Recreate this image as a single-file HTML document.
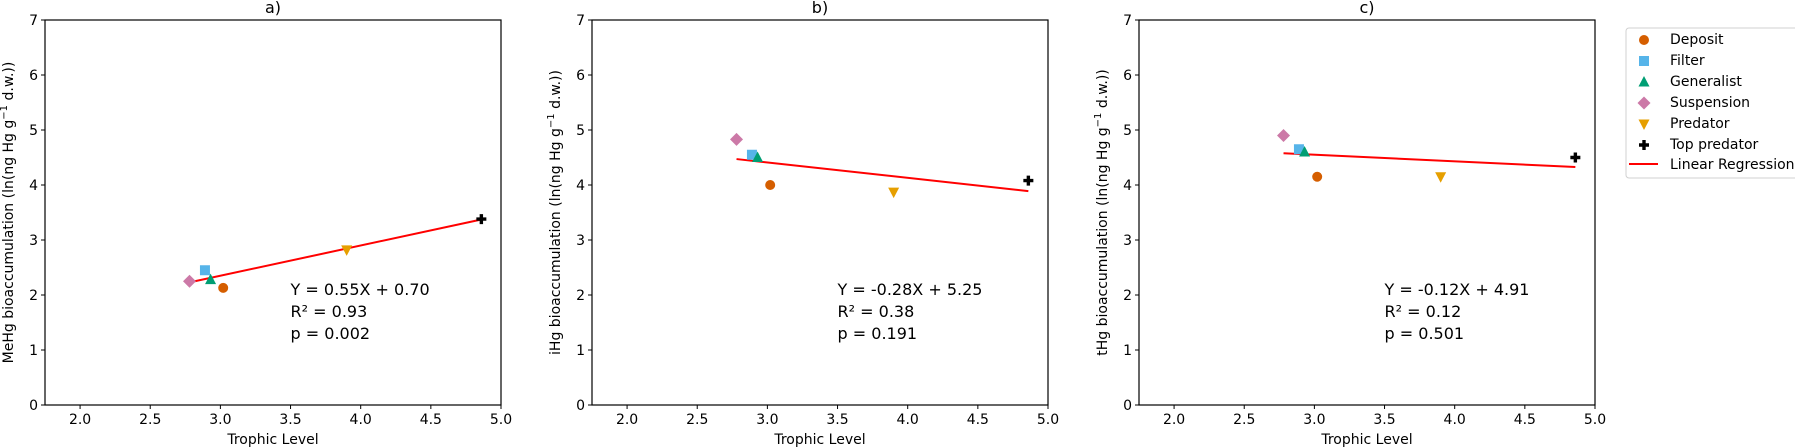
<!DOCTYPE html>
<html><head><meta charset="utf-8"><style>
html,body{margin:0;padding:0;background:#fff;}
svg{display:block;font-family:"DejaVu Sans","Liberation Sans",sans-serif;}
</style></head><body>
<svg id="fig" width="1795" height="448" viewBox="0 0 1795 448"></svg>
<script>
const xTicks = [2.0, 2.5, 3.0, 3.5, 4.0, 4.5, 5.0];
const yTicks = [0, 1, 2, 3, 4, 5, 6, 7];
const groups = ["Deposit", "Filter", "Generalist", "Suspension", "Predator", "Top predator"];
const trophic = [3.02, 2.89, 2.93, 2.78, 3.90, 4.86];
const meHg = [2.13, 2.45, 2.28, 2.25, 2.82, 3.38];
const iHg = [4.00, 4.55, 4.50, 4.83, 3.87, 4.08];
const tHg = [4.15, 4.65, 4.60, 4.90, 4.15, 4.50];
const slopes = [0.55, -0.28, -0.12];
const intercepts = [0.70, 5.25, 4.91];
const r2 = ["0.93", "0.38", "0.12"];
const pvals = ["0.002", "0.191", "0.501"];
const titles = ["a)", "b)", "c)"];
const ylabels = ["MeHg", "iHg", "tHg"];
const colors = ["#d55e00", "#56b4e9", "#009e73", "#cc79a7", "#e69f00", "#000000"];
const series = [meHg, iHg, tHg];

const NS = "http://www.w3.org/2000/svg";
const svg = document.getElementById('fig');
function mk(tag, attrs, parent) {
  const e = document.createElementNS(NS, tag);
  for (const k in attrs) e.setAttribute(k, attrs[k]);
  (parent || svg).appendChild(e);
  return e;
}
function marker(g, i, cx, cy, parent) {
  const c = colors[i]; let e;
  if (g === 0) e = mk('circle', {cx, cy, r: 5, fill: c}, parent);
  else if (g === 1) e = mk('rect', {x: cx-5, y: cy-5, width: 10, height: 10, fill: c}, parent);
  else if (g === 2) e = mk('polygon', {points: `${cx},${cy-6} ${cx+5.5},${cy+4.5} ${cx-5.5},${cy+4.5}`, fill: c}, parent);
  else if (g === 3) e = mk('polygon', {points: `${cx},${cy-6.5} ${cx+6.5},${cy} ${cx},${cy+6.5} ${cx-6.5},${cy}`, fill: c}, parent);
  else if (g === 4) e = mk('polygon', {points: `${cx-5.5},${cy-4.5} ${cx+5.5},${cy-4.5} ${cx},${cy+6}`, fill: c}, parent);
  else e = mk('path', {d: `M${cx-1.7},${cy-5}h3.4v3.3h3.3v3.4h-3.3v3.3h-3.4v-3.3h-3.3v-3.4h3.3z`, fill: c}, parent);
  return e;
}
const lefts = [45, 592, 1139];
const W = 456, topY = 20, botY = 405;
const xmin = 1.75, xmax = 5.0, ymin = 0, ymax = 7;
lefts.forEach((L, p) => {
  const sx = v => L + (v - xmin) / (xmax - xmin) * W;
  const sy = v => botY - (v - ymin) / (ymax - ymin) * (botY - topY);
  const g = mk('g', {});
  
  
  const t = mk('text', {x: L + W/2, y: 13, 'text-anchor': 'middle', 'font-size': 16}, g);
  t.textContent = titles[p];
  
  
  xTicks.forEach(v => {
    const x = sx(v);
    mk('line', {x1: x, x2: x, y1: botY, y2: botY + 4, stroke: '#000', 'stroke-width': 1}, g);
    const tl = mk('text', {x, y: botY + 19, 'text-anchor': 'middle', 'font-size': 14}, g);
    tl.textContent = v.toFixed(1);
    
    
  });
  yTicks.forEach(v => {
    const y = sy(v);
    mk('line', {x1: L - 4, x2: L, y1: y, y2: y, stroke: '#000', 'stroke-width': 1}, g);
    const tl = mk('text', {x: L - 7, y: y + 5, 'text-anchor': 'end', 'font-size': 14}, g);
    tl.textContent = v;
    
    
  });
  const xt = mk('text', {x: L + W/2, y: 444, 'text-anchor': 'middle', 'font-size': 14}, g);
  xt.textContent = 'Trophic Level';
  
  
  const yt = mk('text', {x: 0, y: 0, 'text-anchor': 'middle', 'font-size': 14, transform: `translate(${L - 32},${(topY+botY)/2}) rotate(-90)`}, g);
  yt.innerHTML = ylabels[p] + ' bioaccumulation (ln(ng Hg g<tspan dy="-6" font-size="10">−1</tspan><tspan dy="6"> d.w.))</tspan>';
  
  
  const x0 = Math.min(...trophic), x1 = Math.max(...trophic);
  const rl = mk('line', {x1: sx(x0), y1: sy(slopes[p]*x0 + intercepts[p]), x2: sx(x1), y2: sy(slopes[p]*x1 + intercepts[p]), stroke: '#ff0000', 'stroke-width': 2}, g);
  
  
  groups.forEach((name, i) => {
    const m = marker(i, i, sx(trophic[i]), sy(series[p][i]), g);
    
    
  });
  const fmt = (v) => v.toFixed(2);
  const lines = [`Y = ${fmt(slopes[p])}X + ${fmt(intercepts[p])}`, `R² = ${r2[p]}`, `p = ${pvals[p]}`];
  lines.forEach((s, k) => {
    const a = mk('text', {x: sx(3.5), y: 295 + k*22, 'font-size': 16}, g);
    a.textContent = s;
    
    
  });
  mk('rect', {x: L, y: topY, width: W, height: botY - topY, fill: 'none', stroke: '#000', 'stroke-width': 1.2}, g);
});
const lg = mk('g', {});


mk('rect', {x: 1626, y: 28, width: 175, height: 150, rx: 3, fill: '#fff', stroke: '#d0d0d0', 'stroke-width': 1}, lg);
groups.forEach((name, i) => {
  const y = 38 + i*21;
  marker(i, i, 1644, y + 2, lg);
  const t = mk('text', {x: 1670, y: y + 6, 'font-size': 14}, lg);
  t.textContent = name;
  
  
});
mk('line', {x1: 1629, x2: 1658, y1: 164, y2: 164, stroke: '#ff0000', 'stroke-width': 2}, lg);
const lt = mk('text', {x: 1670, y: 169, 'font-size': 14}, lg);
lt.textContent = 'Linear Regression';


</script>
</body></html>
